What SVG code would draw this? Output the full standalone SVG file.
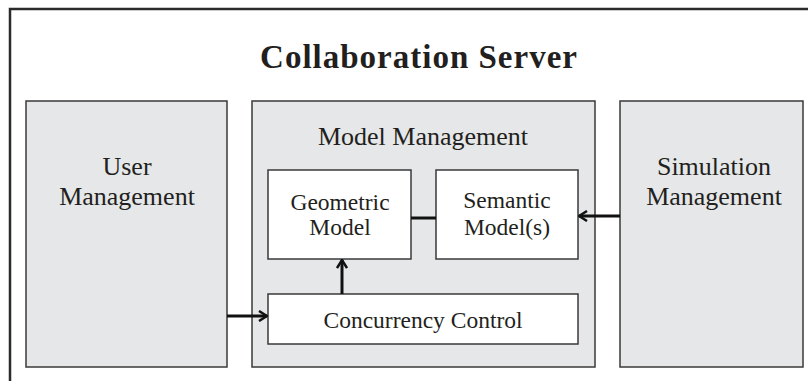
<svg xmlns="http://www.w3.org/2000/svg" width="808" height="381" viewBox="0 0 808 381">
<style>
.frame{fill:none;stroke:#2b2b2b;stroke-width:2.5}
.outer{fill:#e6e7e8;stroke:#3a3a3a;stroke-width:1.5}
.inner{fill:#ffffff;stroke:#3a3a3a;stroke-width:1.5}
.t{font-family:"Liberation Serif","Times New Roman",serif;font-size:23.5px;fill:#231f20;text-anchor:middle}
.big{font-size:26px}
.title{font-family:"Liberation Serif","Times New Roman",serif;font-size:33px;font-weight:bold;fill:#231f20;text-anchor:middle;letter-spacing:1px}
.c{fill:none;stroke:#111;stroke-width:3}
</style>
<defs>
<marker id="ah" viewBox="0 0 12 12" refX="11" refY="6" markerWidth="12" markerHeight="12" markerUnits="userSpaceOnUse" orient="auto">
<path d="M3,1 L11,6 L3,11" fill="none" stroke="#111" stroke-width="2.5"/>
</marker>
</defs>
<rect width="808" height="381" fill="#fff"/>
<path class="frame" d="M10,390 L10,9 L820,9"/>
<text class="title" x="419" y="68">Collaboration Server</text>
<g id="user-management">
<rect class="outer" x="26" y="101" width="201" height="266"/>
<text class="t big" x="127" y="175">User</text>
<text class="t big" x="127" y="205">Management</text>
</g>
<g id="model-management">
<rect class="outer" x="252" y="101" width="343" height="266"/>
<text class="t big" x="423" y="145">Model Management</text>
</g>
<g id="geometric-model">
<rect class="inner" x="268" y="170" width="143" height="89"/>
<text class="t" x="340" y="210">Geometric</text>
<text class="t" x="340" y="235">Model</text>
</g>
<g id="semantic-model">
<rect class="inner" x="436" y="170" width="142" height="89"/>
<text class="t" x="507" y="208">Semantic</text>
<text class="t" x="507" y="235">Model(s)</text>
</g>
<g id="concurrency-control">
<rect class="inner" x="268" y="294" width="310" height="50"/>
<text class="t" x="423" y="328">Concurrency Control</text>
</g>
<g id="simulation-management">
<rect class="outer" x="620" y="101" width="183" height="266"/>
<text class="t big" x="714" y="175">Simulation</text>
<text class="t big" x="714" y="205">Management</text>
</g>
<g id="connectors">
<line class="c" x1="227" y1="316" x2="267" y2="316" marker-end="url(#ah)"/>
<line class="c" x1="342" y1="294" x2="342" y2="260" marker-end="url(#ah)"/>
<line class="c" x1="411" y1="218" x2="436" y2="218"/>
<line class="c" x1="620" y1="216" x2="579" y2="216" marker-end="url(#ah)"/>
</g>
</svg>
